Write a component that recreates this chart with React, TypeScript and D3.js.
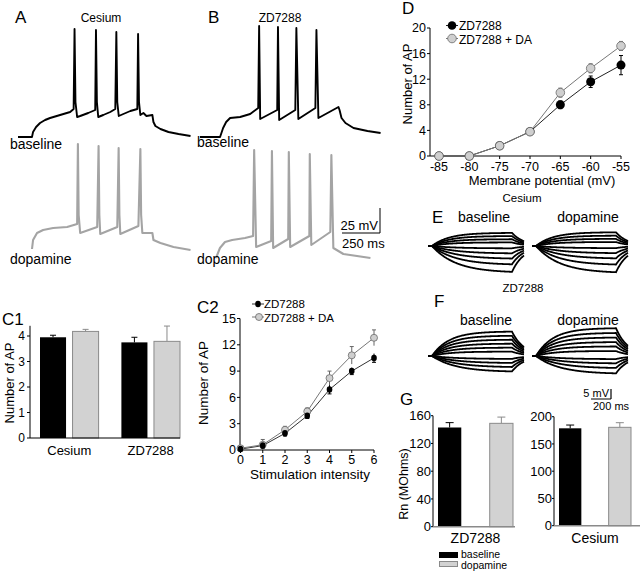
import React from 'react';
import * as d3 from 'd3';

const FONT = '"Liberation Sans", Arial, Helvetica, sans-serif';
const GRAY_FILL = '#d2d2d2';
const GRAY_STROKE = '#8a8a8a';
const GRAY_TRACE = '#a4a4a4';

// ---------- Panel A/B traces: [time ms, voltage mV re: start] ----------
const traceACesBaseline: [number, number][] = [
  [0, 0], [92, 0], [99, 5], [119, 10], [145, 14], [178, 17], [211, 19], [277, 22], [343, 25], [366, 28],
  [372, 108], [378, 35], [389, 20], [409, 21], [462, 24], [508, 27],
  [513, 107], [519, 35], [528, 20], [561, 22], [607, 25], [640, 28],
  [647, 105], [653, 35], [663, 21], [693, 23], [739, 26], [785, 28],
  [790, 103], [796, 35], [805, 22], [825, 24], [845, 21], [884, 22],
  [891, 15], [904, 11], [937, 8], [990, 5], [1056, 3], [1135, 1],
];
const traceACesDopamine: [number, number][] = [
  [0, 1], [7, 10], [33, 17], [73, 20], [139, 22], [231, 23], [297, 26],
  [302, 106], [307, 35], [317, 17],
  [429, 23], [438, 104], [443, 35], [449, 16],
  [561, 23], [570, 102], [575, 35], [581, 16],
  [700, 24], [713, 101], [718, 35], [726, 17],
  [792, 17], [799, 10], [845, 7], [931, 3], [1043, 0],
];
const traceBZDBaseline: [number, number][] = [
  [0, 0], [132, 0], [152, 9], [172, 15], [198, 19], [264, 20], [330, 23], [383, 29],
  [389, 111], [396, 18],
  [508, 27], [513, 110], [521, 17],
  [627, 27], [634, 109], [647, 18],
  [759, 29], [766, 107], [779, 19],
  [911, 30], [918, 27], [931, 19], [957, 14], [1010, 9], [1102, 6], [1188, 4],
];
const traceBZDDopamine: [number, number][] = [
  [0, 0], [26, 10], [59, 16], [106, 18], [191, 20], [244, 22],
  [251, 108], [264, 11],
  [363, 17], [368, 107], [376, 10],
  [475, 19], [479, 106], [488, 11],
  [614, 22], [617, 104], [627, 13],
  [752, 26], [759, 103], [772, 10], [838, 4], [1016, 0],
];

// ---------- Panel D ----------
const dVoltages = [-85, -80, -75, -70, -65, -60, -55];
const dZD = [0, 0, 1.6, 3.8, 8.0, 11.6, 14.2];
const dZDErr = [0, 0, 0.2, 0.3, 0.6, 0.9, 1.5];
const dZDDA = [0, 0, 1.6, 3.8, 9.9, 13.7, 17.2];
const dZDDAErr = [0, 0, 0.2, 0.3, 0.7, 0.7, 0.7];
const dYTicks = [0, 4, 8, 12, 16, 20];

// ---------- Panel C1 ----------
const c1Groups = ['Cesium', 'ZD7288'];
const c1Conditions = ['baseline', 'dopamine'];
const c1Baseline = [3.95, 3.75];
const c1BaselineErr = [0.08, 0.2];
const c1Dopamine = [4.18, 3.79];
const c1DopamineErr = [0.08, 0.6];
const c1YTicks = [0, 1, 2, 3, 4];

// ---------- Panel C2 ----------
const c2Intensity = [0, 1, 2, 3, 4, 5, 6];
const c2ZD = [0.1, 0.5, 1.9, 3.9, 6.9, 9.0, 10.5];
const c2ZDErr = [0.1, 0.3, 0.3, 0.3, 0.5, 0.4, 0.5];
const c2ZDDA = [0.2, 0.6, 2.3, 4.4, 8.2, 10.8, 12.8];
const c2ZDDAErr = [0.1, 0.6, 0.4, 0.4, 0.8, 1.0, 0.9];
const c2YTicks = [0, 3, 6, 9, 12, 15];

// ---------- Panel E/F: step amplitudes (mV at end of step) ----------
const eBaselineAmps = [6.6, 5.0, 3.4, 1.8, -1.2, -3.8, -6.5, -9.5, -13.4];
const eDopamineAmps = [6.9, 5.2, 3.6, 2.0, -1.1, -3.7, -6.4, -9.6, -13.6];
const fBaselineAmps = [12.3, 10.2, 8.2, 6.2, 4.2, 2.2, -1.5, -3.6, -5.7, -8.0];
const fDopamineAmps = [14.0, 11.6, 9.3, 7.0, 4.8, 2.5, -1.6, -3.8, -6.2, -9.0];
const stepPre = 40;
const stepDur = 800;
const stepPost = 120;

// ---------- Panel G ----------
const gConditions = ['baseline', 'dopamine'];
const gZDValues = [143, 149];
const gZDErr = [7, 9];
const gCsValues = [178.7, 180.5];
const gCsErr = [6, 8.5];
const gZDTicks = [0, 40, 80, 120, 160];
const gCsTicks = [0, 50, 100, 150, 200];

function stepTrace(amp: number): [number, number][] {
  const tauOn = amp >= 0 ? 170 : 240;
  const tauOff = 120;
  const pts: [number, number][] = [[0, 0], [stepPre, 0]];
  for (let t = 5; t <= stepDur; t += 5) pts.push([stepPre + t, amp * (1 - Math.exp(-t / tauOn))]);
  const vEnd = amp * (1 - Math.exp(-stepDur / tauOn));
  for (let t = 5; t <= stepPost; t += 5) pts.push([stepPre + stepDur + t, vEnd * Math.exp(-t / tauOff)]);
  return pts;
}

function Trace({ data, ox, oy, color, width }: { data: [number, number][]; ox: number; oy: number; color: string; width: number }) {
  const x = d3.scaleLinear().domain([0, 1000]).range([ox, ox + 152]);
  const y = d3.scaleLinear().domain([0, 100]).range([oy, oy - 100]);
  const line = d3.line<[number, number]>().x(d => x(d[0])).y(d => y(d[1]));
  return <path d={line(data) || ''} fill="none" stroke={color} strokeWidth={width} strokeLinejoin="round" />;
}

function PanelAB() {
  const sx = d3.scaleLinear().domain([0, 1000]).range([0, 152]);
  const sy = d3.scaleLinear().domain([0, 100]).range([0, 100]);
  const bx = 380, by = 233;
  return (
    <g>
      <text x={15} y={23} fontSize={17}>A</text>
      <text x={101} y={22} fontSize={12} textAnchor="middle">Cesium</text>
      <text x={208} y={23} fontSize={17}>B</text>
      <text x={280} y={22} fontSize={12} textAnchor="middle">ZD7288</text>
      <Trace data={traceACesBaseline} ox={18} oy={137} color="#000" width={1.9} />
      <Trace data={traceACesDopamine} ox={32} oy={250} color={GRAY_TRACE} width={2.1} />
      <Trace data={traceBZDBaseline} ox={200} oy={137} color="#000" width={1.9} />
      <Trace data={traceBZDDopamine} ox={216} oy={258} color={GRAY_TRACE} width={2.1} />
      <text x={10} y={149} fontSize={14}>baseline</text>
      <text x={10} y={264} fontSize={14}>dopamine</text>
      <text x={197} y={147} fontSize={14}>baseline</text>
      <text x={197} y={264} fontSize={14}>dopamine</text>
      <line x1={bx} x2={bx} y1={by} y2={by - sy(25)} stroke="#000" strokeWidth={1} />
      <line x1={bx - sx(250)} x2={bx} y1={by} y2={by} stroke="#000" strokeWidth={1} />
      <text x={bx - 2} y={by - 3} fontSize={13} textAnchor="end">25 mV</text>
      <text x={bx - 38} y={by + 15} fontSize={13}>250 ms</text>
    </g>
  );
}

function PanelD() {
  const x = d3.scaleLinear().domain([-85, -55]).range([439, 621]);
  const y = d3.scaleLinear().domain([0, 20]).range([156, 28]);
  const mk = (vals: number[]) => d3.line<number>().x((_, i) => x(dVoltages[i])).y(d => y(d))(vals) || '';
  const axX = 430;
  return (
    <g fontSize={13}>
      <text x={402} y={14} fontSize={17}>D</text>
      <line x1={axX} x2={axX} y1={y(0)} y2={y(20)} stroke="#000" />
      {dYTicks.map(t => (
        <g key={t}>
          <line x1={axX - 3} x2={axX} y1={y(t)} y2={y(t)} stroke="#000" />
          <text x={axX - 4} y={y(t)} dy="0.35em" fontSize={12.5} textAnchor="end">{t}</text>
        </g>
      ))}
      <line x1={axX} x2={x(-55)} y1={y(0)} y2={y(0)} stroke="#000" />
      {dVoltages.map(v => (
        <g key={v}>
          <line x1={x(v)} x2={x(v)} y1={y(0)} y2={y(0) + 3} stroke="#000" />
          <text x={x(v)} y={171} fontSize={12.5} textAnchor="middle">{v}</text>
        </g>
      ))}
      <text transform="translate(412,84) rotate(-90)" textAnchor="middle">Number of AP</text>
      <text x={542} y={185} textAnchor="middle">Membrane potential (mV)</text>
      <path d={mk(dZD)} fill="none" stroke="#222" strokeWidth={1} />
      <path d={mk(dZDDA)} fill="none" stroke="#777" strokeWidth={1} />
      {dZD.map((v, i) => dZDErr[i] > 0.25 ? (
        <g key={'eb' + i} stroke="#000">
          <line x1={x(dVoltages[i])} x2={x(dVoltages[i])} y1={y(v - dZDErr[i])} y2={y(v + dZDErr[i])} />
          <line x1={x(dVoltages[i]) - 2} x2={x(dVoltages[i]) + 2} y1={y(v + dZDErr[i])} y2={y(v + dZDErr[i])} />
          <line x1={x(dVoltages[i]) - 2} x2={x(dVoltages[i]) + 2} y1={y(v - dZDErr[i])} y2={y(v - dZDErr[i])} />
        </g>
      ) : null)}
      {dZDDA.map((v, i) => dZDDAErr[i] > 0.25 ? (
        <g key={'eg' + i} stroke="#666">
          <line x1={x(dVoltages[i])} x2={x(dVoltages[i])} y1={y(v - dZDDAErr[i])} y2={y(v + dZDDAErr[i])} />
          <line x1={x(dVoltages[i]) - 2} x2={x(dVoltages[i]) + 2} y1={y(v + dZDDAErr[i])} y2={y(v + dZDDAErr[i])} />
          <line x1={x(dVoltages[i]) - 2} x2={x(dVoltages[i]) + 2} y1={y(v - dZDDAErr[i])} y2={y(v - dZDDAErr[i])} />
        </g>
      ) : null)}
      {dZD.map((v, i) => <circle key={'b' + i} cx={x(dVoltages[i])} cy={y(v)} r={4.5} fill="#000" />)}
      {dZDDA.map((v, i) => <circle key={'g' + i} cx={x(dVoltages[i])} cy={y(v)} r={4.3} fill="#cfcfcf" stroke="#6a6a6a" strokeWidth={0.8} />)}
      <line x1={446} x2={458} y1={25.5} y2={25.5} stroke="#222" />
      <circle cx={452} cy={25.5} r={4.3} fill="#000" />
      <text x={459} y={30} fontSize={12}>ZD7288</text>
      <line x1={446} x2={458} y1={38.5} y2={38.5} stroke="#777" />
      <circle cx={452} cy={38.5} r={4.3} fill="#cfcfcf" stroke="#6a6a6a" strokeWidth={0.8} />
      <text x={459} y={43.5} fontSize={12}>ZD7288 + DA</text>
    </g>
  );
}

function PanelC1() {
  const y = d3.scaleLinear().domain([0, 4.4]).range([438, 325.8]);
  const xg = d3.scaleBand<string>().domain(c1Groups).range([40, 180]).paddingInner(0.28).paddingOuter(0);
  const xc = d3.scaleBand<string>().domain(c1Conditions).range([0, xg.bandwidth()]).paddingInner(0.2);
  const series = [
    { vals: c1Baseline, errs: c1BaselineErr, fill: '#000', stroke: 'none', ecol: '#000' },
    { vals: c1Dopamine, errs: c1DopamineErr, fill: GRAY_FILL, stroke: GRAY_STROKE, ecol: GRAY_STROKE },
  ];
  return (
    <g fontSize={12}>
      <text x={2} y={325} fontSize={17}>C1</text>
      <line x1={30} x2={30} y1={y(0)} y2={y(4.4)} stroke="#000" />
      {c1YTicks.map(t => (
        <g key={t}>
          <line x1={27} x2={30} y1={y(t)} y2={y(t)} stroke="#000" />
          <text x={25} y={y(t)} dy="0.35em" textAnchor="end">{t}</text>
        </g>
      ))}
      {c1Groups.map((g, gi) => series.map((s, si) => {
        const bx = (xg(g) || 0) + (xc(c1Conditions[si]) || 0);
        const w = xc.bandwidth();
        const v = s.vals[gi];
        const cx = bx + w / 2;
        return (
          <g key={g + si}>
            <line x1={cx} x2={cx} y1={y(v)} y2={y(v + s.errs[gi])} stroke={s.ecol} />
            <line x1={cx - 3} x2={cx + 3} y1={y(v + s.errs[gi])} y2={y(v + s.errs[gi])} stroke={s.ecol} />
            <rect x={bx} y={y(v)} width={w} height={y(0) - y(v)} fill={s.fill} stroke={s.stroke} strokeWidth={1} />
          </g>
        );
      }))}
      <line x1={30} x2={180} y1={y(0)} y2={y(0)} stroke="#000" />
      {c1Groups.map(g => (
        <text key={g} x={(xg(g) || 0) + xg.bandwidth() / 2} y={455} fontSize={13} textAnchor="middle">{g}</text>
      ))}
      <text transform="translate(14,383) rotate(-90)" fontSize={13} textAnchor="middle">Number of AP</text>
    </g>
  );
}

function PanelC2() {
  const x = d3.scaleLinear().domain([0, 6]).range([240.5, 374]);
  const y = d3.scaleLinear().domain([0, 15]).range([450, 318.5]);
  const mk = (vals: number[]) => d3.line<number>().x((_, i) => x(c2Intensity[i])).y(d => y(d))(vals) || '';
  const axX = 240;
  return (
    <g fontSize={13}>
      <text x={197} y={313} fontSize={17}>C2</text>
      <line x1={axX} x2={axX} y1={y(0)} y2={y(15)} stroke="#000" />
      {c2YTicks.map(t => (
        <g key={t}>
          <line x1={axX - 3} x2={axX} y1={y(t)} y2={y(t)} stroke="#000" />
          <text x={axX - 4} y={y(t)} dy="0.35em" fontSize={12.5} textAnchor="end">{t}</text>
        </g>
      ))}
      <line x1={axX} x2={x(6)} y1={y(0)} y2={y(0)} stroke="#000" />
      {c2Intensity.map(v => (
        <g key={v}>
          <line x1={x(v)} x2={x(v)} y1={y(0)} y2={y(0) + 3} stroke="#000" />
          <text x={x(v)} y={464} fontSize={12.5} textAnchor="middle">{v}</text>
        </g>
      ))}
      <text transform="translate(208,383) rotate(-90)" fontSize={13.5} textAnchor="middle">Number of AP</text>
      <text x={310} y={479} fontSize={13.5} textAnchor="middle">Stimulation intensity</text>
      <path d={mk(c2ZD)} fill="none" stroke="#333" strokeWidth={1} />
      <path d={mk(c2ZDDA)} fill="none" stroke="#777" strokeWidth={1} />
      {c2ZDDA.map((v, i) => (
        <g key={'eg' + i} stroke="#666">
          <line x1={x(c2Intensity[i])} x2={x(c2Intensity[i])} y1={y(v - c2ZDDAErr[i])} y2={y(v + c2ZDDAErr[i])} />
          <line x1={x(c2Intensity[i]) - 2} x2={x(c2Intensity[i]) + 2} y1={y(v + c2ZDDAErr[i])} y2={y(v + c2ZDDAErr[i])} />
        </g>
      ))}
      {c2ZD.map((v, i) => (
        <g key={'eb' + i} stroke="#000">
          <line x1={x(c2Intensity[i])} x2={x(c2Intensity[i])} y1={y(v - c2ZDErr[i])} y2={y(v + c2ZDErr[i])} />
          <line x1={x(c2Intensity[i]) - 2} x2={x(c2Intensity[i]) + 2} y1={y(v - c2ZDErr[i])} y2={y(v - c2ZDErr[i])} />
        </g>
      ))}
      {c2ZDDA.map((v, i) => <circle key={'g' + i} cx={x(c2Intensity[i])} cy={y(v)} r={3.5} fill="#cfcfcf" stroke="#6a6a6a" strokeWidth={0.8} />)}
      {c2ZD.map((v, i) => <ellipse key={'b' + i} cx={x(c2Intensity[i])} cy={y(v)} rx={2.8} ry={3.3} fill="#000" />)}
      <line x1={252} x2={264} y1={304} y2={304} stroke="#333" />
      <ellipse cx={258} cy={304} rx={2.8} ry={3.3} fill="#000" />
      <text x={264} y={308} fontSize={11.5}>ZD7288</text>
      <line x1={252} x2={264} y1={317} y2={317} stroke="#777" />
      <circle cx={259} cy={317} r={3.5} fill="#cfcfcf" stroke="#6a6a6a" strokeWidth={0.8} />
      <text x={264} y={321.5} fontSize={11.5}>ZD7288 + DA</text>
    </g>
  );
}

function StepFamily({ amps, x0, cy }: { amps: number[]; x0: number; cy: number }) {
  const x = d3.scaleLinear().domain([0, stepPre + stepDur + stepPost]).range([x0, x0 + 96]);
  const y = d3.scaleLinear().domain([-15, 15]).range([cy + 30, cy - 30]);
  const line = d3.line<[number, number]>().x(d => x(d[0])).y(d => y(d[1]));
  return (
    <g>
      {amps.map((a, i) => (
        <path key={i} d={line(stepTrace(a)) || ''} fill="none" stroke="#000" strokeWidth={1.8} />
      ))}
    </g>
  );
}

function PanelEF() {
  const sx = d3.scaleLinear().domain([0, 1000]).range([0, 100]);
  const sy = d3.scaleLinear().domain([0, 15]).range([0, 30]);
  const bx = 611, by = 399;
  return (
    <g>
      <text x={522} y={202} fontSize={11.5} textAnchor="middle">Cesium</text>
      <text x={432} y={223} fontSize={17} fontWeight={300}>E</text>
      <text x={484} y={222} fontSize={14} textAnchor="middle">baseline</text>
      <text x={588} y={222} fontSize={14} textAnchor="middle">dopamine</text>
      <StepFamily amps={eBaselineAmps} x0={428} cy={246} />
      <StepFamily amps={eDopamineAmps} x0={532} cy={246} />
      <text x={523} y={292} fontSize={11.5} textAnchor="middle">ZD7288</text>
      <text x={434} y={307} fontSize={17} fontWeight={300}>F</text>
      <text x={486} y={325} fontSize={14} textAnchor="middle">baseline</text>
      <text x={588} y={325} fontSize={14} textAnchor="middle">dopamine</text>
      <StepFamily amps={fBaselineAmps} x0={428} cy={356} />
      <StepFamily amps={fDopamineAmps} x0={532} cy={356} />
      <line x1={bx} x2={bx} y1={by} y2={by - sy(5)} stroke="#000" strokeWidth={1.2} />
      <line x1={bx - sx(200)} x2={bx} y1={by} y2={by} stroke="#000" strokeWidth={1} />
      <text x={bx - 2} y={by - 2} fontSize={11} textAnchor="end">5 mV</text>
      <text x={593} y={410} fontSize={11}>200 ms</text>
    </g>
  );
}

function BarPair({ vals, errs, axX, axEnd, y0, ticks, domainMax, rangeTop, bandStart, bandEnd, label }: any) {
  const y = d3.scaleLinear().domain([0, domainMax]).range([y0, rangeTop]);
  const xb = d3.scaleBand<string>().domain(gConditions).range([bandStart, bandEnd]).paddingInner(0.55).paddingOuter(0);
  const fills = ['#000', GRAY_FILL];
  const strokes = ['none', GRAY_STROKE];
  const ecols = ['#000', GRAY_STROKE];
  return (
    <g fontSize={13}>
      <line x1={axX} x2={axX} y1={y(0)} y2={y(ticks[ticks.length - 1])} stroke="#000" />
      {ticks.map((t: number) => (
        <g key={t}>
          <line x1={axX - 2} x2={axX} y1={y(t)} y2={y(t)} stroke="#000" />
          <text x={axX - 2} y={y(t)} dy="0.35em" textAnchor="end">{t}</text>
        </g>
      ))}
      {gConditions.map((c, i) => {
        const bx = xb(c) || 0;
        const w = xb.bandwidth();
        const v = vals[i];
        return (
          <g key={c}>
            <line x1={bx + w / 2} x2={bx + w / 2} y1={y(v)} y2={y(v + errs[i])} stroke={ecols[i]} />
            <line x1={bx + w / 2 - 4} x2={bx + w / 2 + 4} y1={y(v + errs[i])} y2={y(v + errs[i])} stroke={ecols[i]} />
            <rect x={bx} y={y(v)} width={w} height={y(0) - y(v)} fill={fills[i]} stroke={strokes[i]} />
          </g>
        );
      })}
      <line x1={axX} x2={axEnd} y1={y(0)} y2={y(0)} stroke={GRAY_STROKE} strokeWidth={1.5} />
      <text x={(bandStart + bandEnd) / 2} y={543} fontSize={14} textAnchor="middle">{label}</text>
    </g>
  );
}

function PanelG() {
  return (
    <g>
      <text x={400} y={405} fontSize={17}>G</text>
      <text transform="translate(408,484) rotate(-90)" fontSize={12.5} textAnchor="middle">Rn (MOhms)</text>
      <BarPair vals={gZDValues} errs={gZDErr} axX={433} axEnd={515} y0={526.7} ticks={gZDTicks} domainMax={160} rangeTop={415.7} bandStart={438} bandEnd={513} label="ZD7288" />
      <BarPair vals={gCsValues} errs={gCsErr} axX={554} axEnd={640} y0={525.7} ticks={gCsTicks} domainMax={200} rangeTop={416.7} bandStart={559} bandEnd={631} label="Cesium" />
      <rect x={439} y={552} width={19} height={6} fill="#000" />
      <text x={461} y={557.5} fontSize={10.5}>baseline</text>
      <rect x={439.5} y={561.5} width={18} height={5} fill={GRAY_FILL} stroke={GRAY_STROKE} />
      <text x={461} y={569} fontSize={10.5}>dopamine</text>
    </g>
  );
}

export default function App() {
  return (
    <svg width={640} height={571} style={{ position: 'absolute', left: 0, top: 0, background: '#fff' }} fontFamily={FONT}>
      <rect width={640} height={571} fill="#fff" />
      <PanelAB />
      <PanelD />
      <PanelC1 />
      <PanelC2 />
      <PanelEF />
      <PanelG />
    </svg>
  );
}
